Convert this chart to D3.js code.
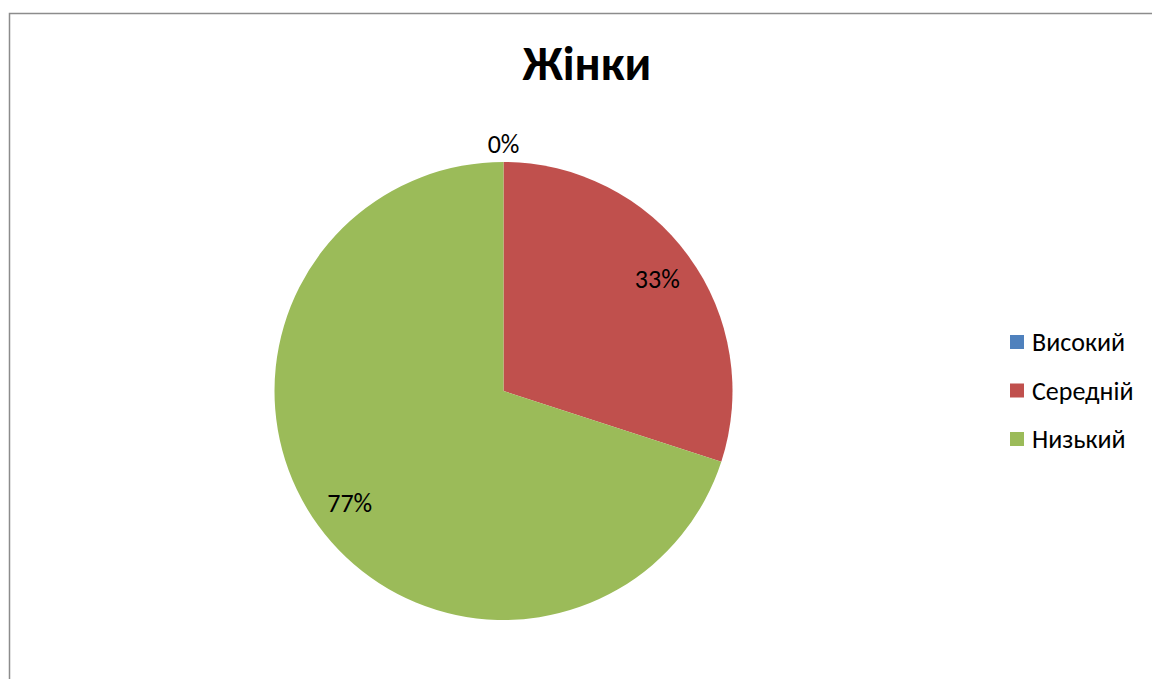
<!DOCTYPE html>
<html><head><meta charset="utf-8">
<script src="https://cdn.jsdelivr.net/npm/d3@7"></script>
<style>html,body{margin:0;padding:0;background:#fff;}svg{display:block;}</style>
</head><body>
<svg id="c" width="1152" height="679"></svg>
<script>
const title = "Жінки";
const categories = ["Високий", "Середній", "Низький"];
const values = [0, 0.33, 0.77];
const colors = ["#4F81BD", "#C0504D", "#9BBB59"];

const svg = d3.select("#c");
const font = "Carlito, Calibri, 'Open Sans', sans-serif";

// chart border
svg.append("rect").attr("x", 9.5).attr("y", 13.5).attr("width", 1200).attr("height", 700)
  .attr("fill", "#fff").attr("stroke", "#8c8c8c").attr("stroke-width", 1.5);

svg.append("text").attr("x", 587).attr("y", 80).attr("text-anchor", "middle")
  .attr("font-family", font).attr("font-weight", "bold").attr("font-size", 48)
  .attr("fill", "#000").text(title);

const cx = 503.5, cy = 391, R = 229;
const data = categories.map((c, i) => ({ cat: c, val: values[i], color: colors[i] }));
const pie = d3.pie().value(d => d.val).sort(null);
const arcs = pie(data);
const arc = d3.arc().innerRadius(0).outerRadius(R);
const g = svg.append("g").attr("transform", `translate(${cx},${cy})`);
g.selectAll("path").data(arcs).join("path")
  .attr("d", arc).attr("fill", d => d.data.color);

const fmt = d3.format(".0%");
const inner = d3.arc().innerRadius(R * 0.83).outerRadius(R * 0.83);
const outer = d3.arc().innerRadius(R + 18).outerRadius(R + 18);
g.selectAll("text.lbl").data(arcs).join("text").attr("class", "lbl")
  .attr("transform", d => `translate(${(d.data.val === 0 ? outer : inner).centroid(d)})`)
  .attr("text-anchor", "middle").attr("dy", "0.35em")
  .attr("font-family", font).attr("font-size", 26).attr("fill", "#000")
  .text(d => fmt(d.data.val));

const leg = svg.append("g").attr("transform", "translate(1010,342)");
const rows = leg.selectAll("g").data(data).join("g")
  .attr("transform", (d, i) => `translate(0,${i * 48.5})`);
rows.append("rect").attr("x", 0).attr("y", -7).attr("width", 14).attr("height", 14)
  .attr("fill", d => d.color);
rows.append("text").attr("x", 22).attr("dy", "0.35em")
  .attr("font-family", font).attr("font-size", 26).attr("fill", "#000")
  .text(d => d.cat);
</script>
</body></html>
